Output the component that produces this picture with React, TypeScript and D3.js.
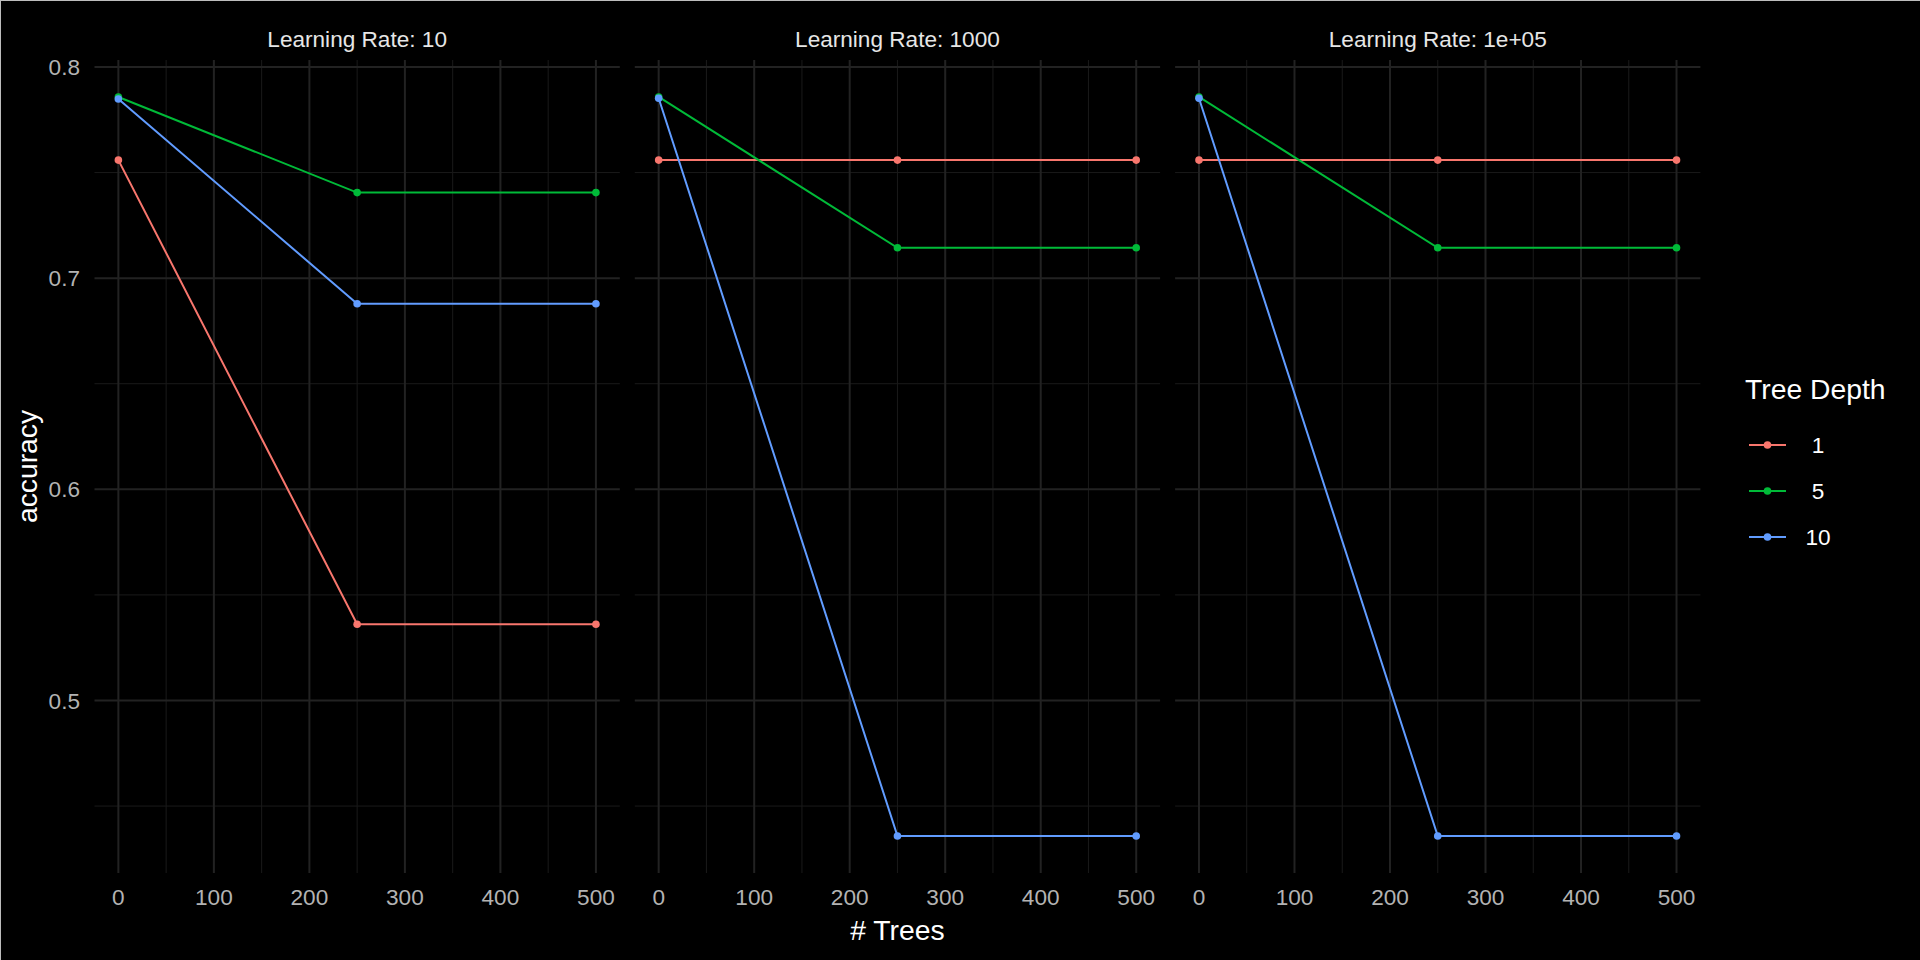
import React from "react";
import * as d3 from "d3";

const panels = ["Learning Rate: 10", "Learning Rate: 1000", "Learning Rate: 1e+05"];
const trees = [0, 250, 500];
const depths = ["1", "5", "10"];
const colors = ["#F8766D", "#00BA38", "#619CFF"];

// accuracy per depth, per panel, per tree count
const depth1 = [
  [0.7559, 0.5361, 0.5361],
  [0.7559, 0.7559, 0.7559],
  [0.7559, 0.7559, 0.7559],
];
const depth5 = [
  [0.7858, 0.7405, 0.7405],
  [0.7858, 0.7144, 0.7144],
  [0.7858, 0.7144, 0.7144],
];
const depth10 = [
  [0.7848, 0.6879, 0.6879],
  [0.7852, 0.4358, 0.4358],
  [0.7852, 0.4358, 0.4358],
];
const seriesByDepth = [depth1, depth5, depth10];

const yTicks = [0.5, 0.6, 0.7, 0.8];
const yMinor = [0.45, 0.55, 0.65, 0.75];
const xTicks = [0, 100, 200, 300, 400, 500];
const xMinor = [50, 150, 250, 350, 450];

const W = 1920;
const H = 960;
const panelTop = 60;
const panelBottom = 873;
const panelLeft0 = 94.5;
const panelW = 525.3;
const panelGap = 15;
const FONT = "'Liberation Sans', Arial, Helvetica, sans-serif";

export default function App() {
  const allVals = seriesByDepth.flat(2);
  const yMin = d3.min(allVals) as number;
  const yMax = d3.max(allVals) as number;
  const yPad = (yMax - yMin) * 0.05;
  const y = d3.scaleLinear().domain([yMin - yPad, yMax + yPad]).range([panelBottom, panelTop]);
  const xExt = d3.extent(trees) as [number, number];
  const xPad = (xExt[1] - xExt[0]) * 0.05;

  const line = (xs: d3.ScaleLinear<number, number>) =>
    d3
      .line<[number, number]>()
      .x((d) => xs(d[0]))
      .y((d) => y(d[1]));

  return (
    <svg
      width={W}
      height={H}
      style={{ position: "fixed", left: 0, top: 0, display: "block", background: "#000" }}
      fontFamily={FONT}
    >
      <rect x={0} y={0} width={W} height={H} fill="#000" />
      <line x1={0} x2={W} y1={0.5} y2={0.5} stroke="#bdbdbd" strokeWidth={1} />
      <line x1={0.5} x2={0.5} y1={0} y2={H} stroke="#bdbdbd" strokeWidth={1} />

      {panels.map((title, pi) => {
        const left = panelLeft0 + pi * (panelW + panelGap);
        const x = d3.scaleLinear().domain([xExt[0] - xPad, xExt[1] + xPad]).range([left, left + panelW]);
        const lg = line(x);
        return (
          <g key={title}>
            {yMinor.map((t) => (
              <line key={"ym" + t} x1={left} x2={left + panelW} y1={y(t)} y2={y(t)} stroke="#1a1a1a" strokeWidth={1} />
            ))}
            {xMinor.map((t) => (
              <line key={"xm" + t} x1={x(t)} x2={x(t)} y1={panelTop} y2={panelBottom} stroke="#1a1a1a" strokeWidth={1} />
            ))}
            {yTicks.map((t) => (
              <line key={"yM" + t} x1={left} x2={left + panelW} y1={y(t)} y2={y(t)} stroke="#222" strokeWidth={2} />
            ))}
            {xTicks.map((t) => (
              <line key={"xM" + t} x1={x(t)} x2={x(t)} y1={panelTop} y2={panelBottom} stroke="#222" strokeWidth={2} />
            ))}
            <text x={left + panelW / 2} y={46.5} textAnchor="middle" fontSize={22.6} fill="#e6e6e6">
              {title}
            </text>
            {xTicks.map((t) => (
              <text key={"xl" + t} x={x(t)} y={905} textAnchor="middle" fontSize={22.6} fill="#b3b3b3">
                {t}
              </text>
            ))}
            {seriesByDepth.map((ser, di) => (
              <path
                key={"l" + di}
                d={lg(trees.map((tv, k) => [tv, ser[pi][k]] as [number, number])) || ""}
                fill="none"
                stroke={colors[di]}
                strokeWidth={2}
              />
            ))}
            {seriesByDepth.map((ser, di) =>
              trees.map((tv, k) => (
                <circle key={"p" + di + "-" + k} cx={x(tv)} cy={y(ser[pi][k])} r={3.8} fill={colors[di]} />
              ))
            )}
          </g>
        );
      })}

      {yTicks.map((t) => (
        <text key={"yl" + t} x={80} y={y(t)} dy="0.36em" textAnchor="end" fontSize={22.6} fill="#b3b3b3">
          {d3.format(".1f")(t)}
        </text>
      ))}

      <text
        transform={`translate(37,${(panelTop + panelBottom) / 2}) rotate(-90)`}
        textAnchor="middle"
        fontSize={28.3}
        fill="#fff"
      >
        accuracy
      </text>
      <text
        x={(panelLeft0 + panelLeft0 + 3 * panelW + 2 * panelGap) / 2}
        y={940}
        textAnchor="middle"
        fontSize={28.3}
        fill="#fff"
      >
        # Trees
      </text>

      <text x={1745} y={399} fontSize={28.3} fill="#fff">
        Tree Depth
      </text>
      {depths.map((dName, i) => {
        const ky = 445 + i * 46;
        return (
          <g key={"lg" + dName}>
            <line x1={1749} x2={1786} y1={ky} y2={ky} stroke={colors[i]} strokeWidth={2} />
            <circle cx={1767.5} cy={ky} r={3.8} fill={colors[i]} />
            <text x={1818} y={ky} dy="0.36em" textAnchor="middle" fontSize={22.6} fill="#fff">
              {dName}
            </text>
          </g>
        );
      })}
    </svg>
  );
}
